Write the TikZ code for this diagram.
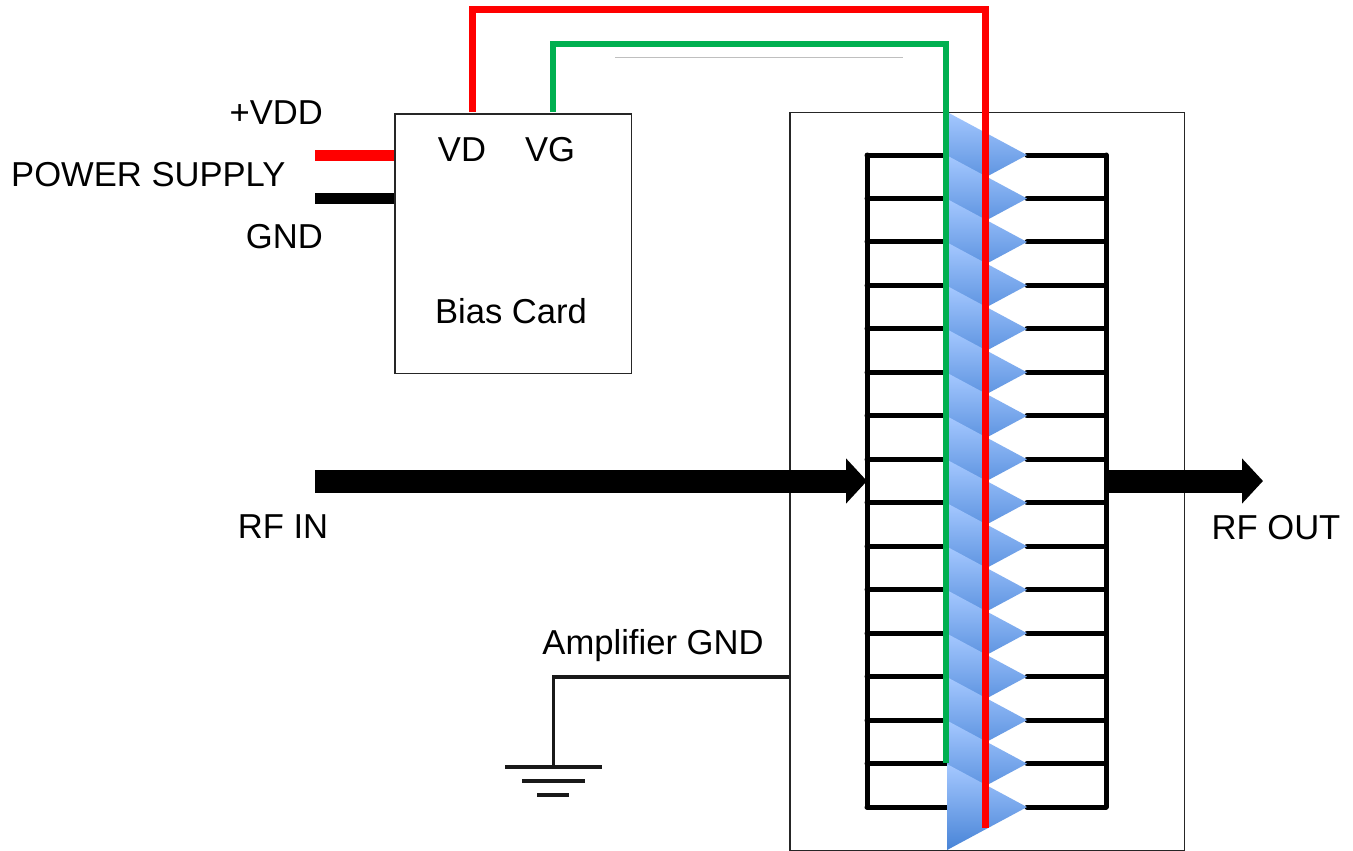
\documentclass[tikz,border=0pt]{standalone}
\usepackage{fontspec}
\setmainfont{Liberation Sans}
\usetikzlibrary{arrows.meta,positioning}

\definecolor{wirered}{RGB}{255,0,0}
\definecolor{wiregreen}{RGB}{0,176,80}
\definecolor{stagelight}{RGB}{165,200,255}
\definecolor{stagedark}{RGB}{72,132,215}

\tikzset{
    boxnode/.style={draw=black!85, line width=1.5pt, fill=white, inner sep=0pt, anchor=north west},
    txt/.style={font=\fontsize{34.6}{38}\selectfont, text=black, inner sep=0pt},
    bigarrow/.style={line width=23pt, -{Triangle[length=21pt,width=44pt]}},
    rung/.style={line width=5pt, black, line cap=round},
    gndline/.style={line width=3.5pt, black!90},
}

\begin{document}
\begin{tikzpicture}[x=1pt,y=-1pt]
    \useasboundingbox (0,0) rectangle (1353,851);

    % The two boxes
    \node[boxnode, minimum width=394.5pt, minimum height=738.5pt] (amp) at (789,111.5) {};
    \node[boxnode, minimum width=236.5pt, minimum height=259.5pt] (bias) at (394,113) {};

    % Bias card labels
    \node[txt] (vdlabel) at (462,150) {VD};
    \node[txt] (vglabel) at (550,150) {VG};
    \node[txt] (biaslabel) at (511,311) {Bias Card};

    % Power supply leads
    \coordinate (vddend) at (315,155);
    \coordinate (gndend) at (315,198);
    \draw[wirered, line width=11pt] (vddend) -- (vddend -| bias.west);
    \draw[black, line width=11pt] (gndend) -- (gndend -| bias.west);
    \node[txt, anchor=east] (vddlabel) at (323,113) {+VDD};
    \node[txt, anchor=west] (supplylabel) at (11,175) {POWER SUPPLY};
    \node[txt, anchor=east] (gndlabel) at (323,237) {GND};

    % Rails on both sides of the stages
    \coordinate (railLtop) at (867,155);
    \coordinate (railLbot) at (867,807);
    \coordinate (railRtop) at (1106,155);
    \coordinate (railRbot) at (1106,807);
    \draw[rung] (railLtop) -- (railLbot);
    \draw[rung] (railRtop) -- (railRbot);

    % 16 amplifier stages, each one overlaps the one above it
    \foreach \i in {0,...,15} {
        \pgfmathsetmacro{\tipy}{155+\i*43.47}
        \coordinate (tip\i) at (1027,\tipy);
        \draw[rung] (tip\i -| railLtop) -- (947,\tipy);
        \draw[rung] (tip\i) -- (tip\i -| railRtop);
        \shade[top color=stagelight, bottom color=stagedark]
            (947,\tipy-43) -- (tip\i) -- (947,\tipy+43) -- cycle;
    }

    % Gate and drain wires
    \coordinate (gateend) at (946,763);
    \coordinate (drainend) at (985,828);
    \draw[wiregreen, line width=6pt] (553,112) -- (553,44) -- (946,44) -- (gateend);
    \draw[wirered, line width=7pt] (472,112) -- (472,10) -- (985,10) -- (drainend);

    % Stray line under the green wire
    \draw[black!25, line width=0.8pt] (615,57) -- (903,57);

    % RF in and out
    \coordinate (rfinend) at (315,481);
    \coordinate (rfoutend) at (1263,481);
    \draw[bigarrow] (rfinend) -- (rfinend -| railLtop);
    \draw[bigarrow] (rfoutend -| railRtop) -- (rfoutend);
    \node[txt] (rfinlabel) at (283,527) {RF IN};
    \node[txt] (rfoutlabel) at (1276,528) {RF OUT};

    % Amplifier ground
    \coordinate (gndtop) at (553.5,677);
    \coordinate (gndbot) at (553.5,767);
    \draw[gndline] (gndtop -| amp.west) -- (gndtop) -- (gndbot);
    \draw[gndline] (505,767) -- (602,767);
    \draw[gndline] (522,781) -- (585,781);
    \draw[gndline] (537,795) -- (569,795);
    \node[txt] (amplabel) at (653,646) {Amplifier GND};

\end{tikzpicture}
\end{document}
